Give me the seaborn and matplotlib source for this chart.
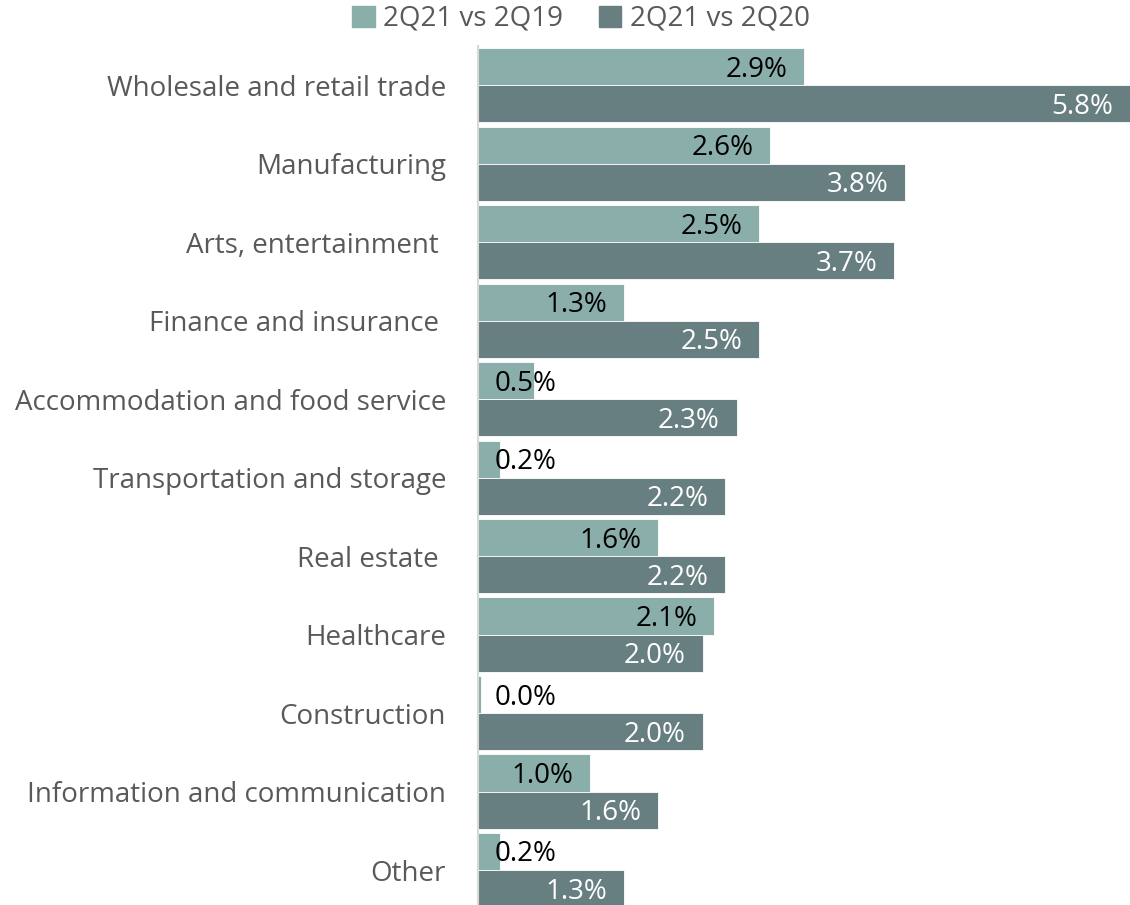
import matplotlib
matplotlib.use("Agg")
import matplotlib.pyplot as plt
import matplotlib.transforms as mtransforms
import seaborn as sns
import pandas as pd

sectors = [
    "Wholesale and retail trade",
    "Manufacturing",
    "Arts, entertainment ",
    "Finance and insurance ",
    "Accommodation and food service",
    "Transportation and storage",
    "Real estate ",
    "Healthcare",
    "Construction",
    "Information and communication",
    "Other",
]
vs_2q19 = [2.9, 2.6, 2.5, 1.3, 0.5, 0.2, 1.6, 2.1, 0.03, 1.0, 0.2]
vs_2q20 = [5.8, 3.8, 3.7, 2.5, 2.3, 2.2, 2.2, 2.0, 2.0, 1.6, 1.3]
series_names = ["2Q21 vs 2Q19", "2Q21 vs 2Q20"]

light = "#8aaeaa"
dark = "#687f81"
fs = 20

df = pd.DataFrame({
    "sector": sectors * 2,
    "value": vs_2q19 + vs_2q20,
    "series": [series_names[0]] * len(sectors) + [series_names[1]] * len(sectors),
})

sns.set_theme(style="white")
plt.rcParams["font.family"] = ["Open Sans", "DejaVu Sans"]

fig = plt.figure(figsize=(11.30, 9.05), dpi=100)
ax = fig.add_axes([478 / 1130, 0.0, 1 - 478 / 1130, (905 - 46) / 905])

sns.barplot(
    data=df, y="sector", x="value", hue="series", orient="h",
    palette=[light, dark], width=0.945, ax=ax, legend=False,
    edgecolor="white", linewidth=0.6, saturation=1,
)

ax.set_xlim(0, 5.8)
ax.set_ylim(10 + (905 - 870) / 78.5, -0.5)
ax.set_xlabel("")
ax.set_ylabel("")
ax.set_xticks([])
ax.tick_params(axis="y", length=0, pad=23, labelsize=fs, labelcolor="#595959")
for s in ["top", "right", "bottom"]:
    ax.spines[s].set_visible(False)
ax.spines["left"].set_color("#d9d9d9")
ax.spines["left"].set_linewidth(1.5)

# value labels sit a touch below the bar centre
shift = mtransforms.offset_copy(ax.transData, fig=fig, x=0, y=-3, units="dots")
pad = 0.15
for container, color in zip(ax.containers, ["black", "white"]):
    for bar in container:
        v = bar.get_width()
        yc = bar.get_y() + bar.get_height() / 2
        label = f"{v:.1f}%"
        if v < 0.85:
            ax.text(pad, yc, label, ha="left", va="center", fontsize=fs,
                    color=color, transform=shift)
        else:
            ax.text(v - pad, yc, label, ha="right", va="center", fontsize=fs,
                    color=color, transform=shift)

handles = [plt.Rectangle((0, 0), 1, 1, color=c) for c in (light, dark)]
fig.legend(handles, series_names, loc="center", bbox_to_anchor=(581 / 1130, 1 - 19 / 905),
           ncol=2, frameon=False, fontsize=fs, labelcolor="#595959",
           handlelength=0.8, handleheight=0.8, handletextpad=0.3, columnspacing=1.3)

fig.savefig("out.png", dpi=100)
